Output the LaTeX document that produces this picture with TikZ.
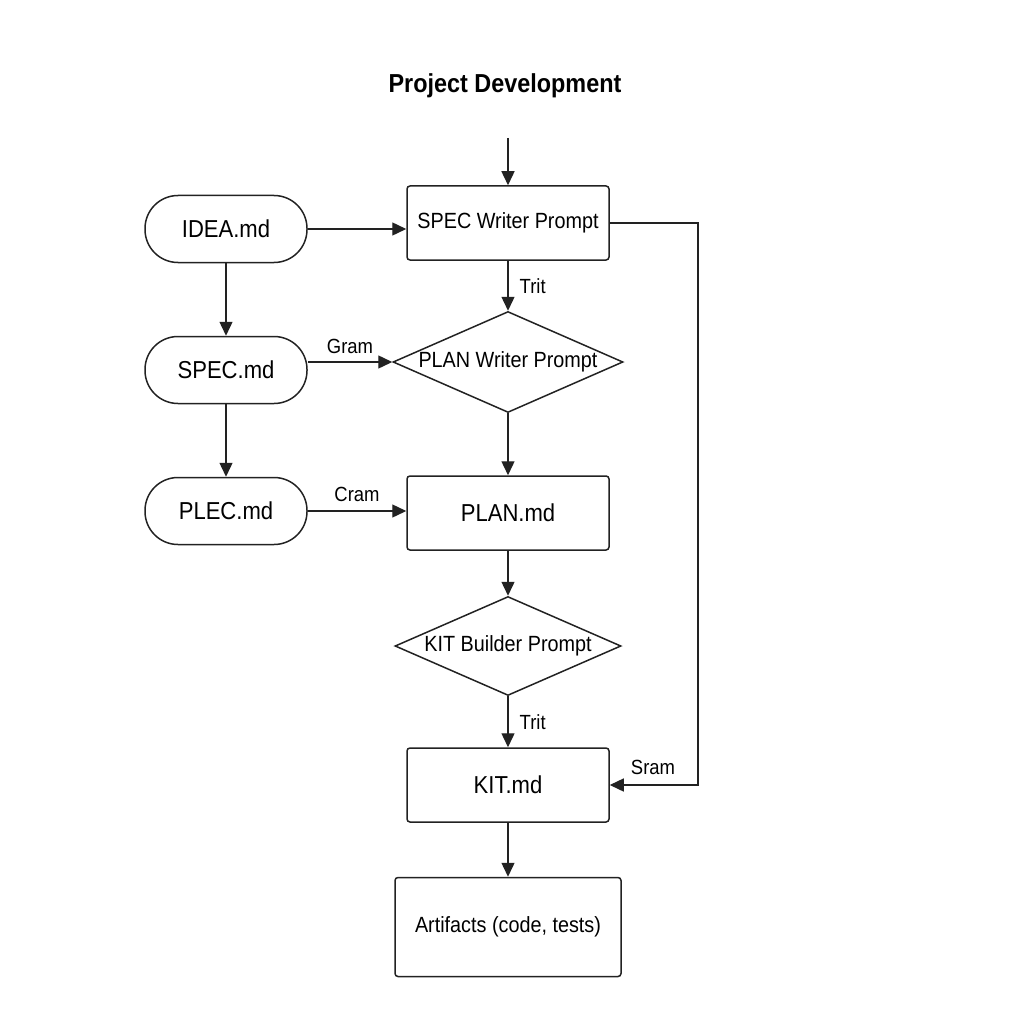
\documentclass[tikz,border=0pt]{standalone}
\usepackage{fontspec}
\setmainfont[FakeStretch=0.9]{Liberation Sans}
\usetikzlibrary{shapes.geometric,arrows.meta}
\definecolor{ink}{HTML}{222222}
\tikzset{
  box/.style={draw=ink, line width=1.5pt, rectangle, rounded corners=3pt, minimum width=202pt, minimum height=74pt, inner sep=0pt},
  pill/.style={draw=ink, line width=1.5pt, rectangle, rounded corners=33pt, minimum width=162pt, minimum height=67pt, inner sep=0pt, font=\fontsize{24.5}{28}\selectfont},
  dia/.style={draw=ink, line width=1.5pt, diamond, aspect=2.28, inner sep=0pt},
  arr/.style={draw=ink, line width=1.4pt, -{Triangle[length=14pt,width=13pt]}},
  lbl/.style={font=\fontsize{20.5}{23}\selectfont, inner sep=0pt},
  mid/.style={font=\fontsize{22}{25}\selectfont},
  big/.style={font=\fontsize{24.5}{28}\selectfont}
}
\begin{document}
\begin{tikzpicture}[x=1pt,y=-1pt]
\useasboundingbox (0,0) rectangle (1024,1024);
\node[font=\fontsize{26}{30}\selectfont\bfseries] (title) at (505,86) {Project Development};
\node[box, mid] (sw) at (508,223) {SPEC Writer Prompt};
\coordinate (start) at (508,138);
\node[dia, mid, minimum width=230pt, minimum height=101pt] (pw) at (508,362) {PLAN Writer Prompt};
\node[box, big] (plan) at (508,513) {PLAN.md};
\node[dia, mid, minimum width=226pt, minimum height=99pt] (kb) at (508,646) {KIT Builder Prompt};
\node[box, big] (kit) at (508,785) {KIT.md};
\node[box, mid, minimum width=226pt, minimum height=99pt] (art) at (508,927) {Artifacts (code, tests)};
\node[pill] (idea) at (226,229) {IDEA.md};
\node[pill] (spec) at (226,370) {SPEC.md};
\node[pill] (plec) at (226,511) {PLEC.md};
\coordinate (fb) at (698,0);

\draw[arr] (start) -- (sw.north);
\draw[arr] (idea.east) -- (idea.east -| sw.west);
\draw[arr] (sw.south) -- node[lbl, right=11pt] (t1) {Trit} (pw.north);
\draw[arr] (spec.east |- pw.west) -- node[lbl, above=8pt] (g) {Gram} (pw.west);
\draw[arr] (idea.south) -- (spec.north);
\draw[arr] (spec.south) -- (plec.north);
\draw[arr] (plec.east) -- node[lbl, above=9pt] (c) {Cram} (plec.east -| plan.west);
\draw[arr] (pw.south) -- (plan.north);
\draw[arr] (plan.south) -- (kb.north);
\draw[arr] (kb.south) -- node[lbl, right=11pt] (t2) {Trit} (kit.north);
\draw[arr] (kit.south) -- (art.north);
\draw[arr] (sw.east) -- (sw.east -| fb) -- (kit.east -| fb) -- (kit.east);
\node[lbl] (sram) at (653,767) {Sram};
\end{tikzpicture}
\end{document}
